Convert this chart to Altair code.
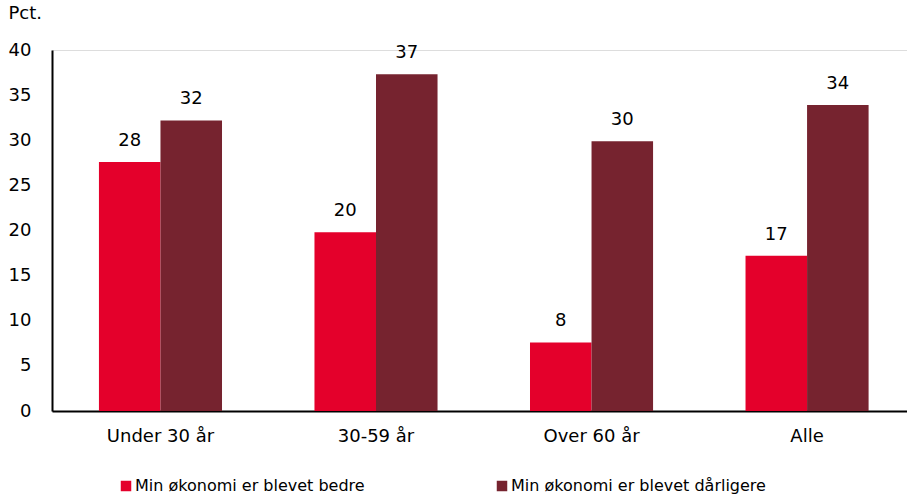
import altair as alt
import pandas as pd

categories = ["Under 30 år", "30-59 år", "Over 60 år", "Alle"]
series = ["Min økonomi er blevet bedre", "Min økonomi er blevet dårligere"]
bedre = [27.6, 19.8, 7.6, 17.2]
daarligere = [32.2, 37.3, 29.9, 33.9]
colors = ["#E4002B", "#76232F"]

rows = []
for c, b, d in zip(categories, bedre, daarligere):
    rows.append({"kat": c, "serie": series[0], "v": b})
    rows.append({"kat": c, "serie": series[1], "v": d})
df = pd.DataFrame(rows)

FONT = "DejaVu Sans"
FS = 18

x = alt.X("kat:N", sort=categories, title=None,
          scale=alt.Scale(paddingInner=0.429, paddingOuter=0.198, align=0.55),
          axis=alt.Axis(labelAngle=0, ticks=False, tickSize=0, labelPadding=16,
                        labelFontSize=FS, labelFont=FONT, labelColor="black",
                        domainColor="black", domainWidth=2))
xoff = alt.XOffset("serie:N", sort=series, scale=alt.Scale(paddingInner=0, paddingOuter=0))
y = alt.Y("v:Q", scale=alt.Scale(domain=[0, 40]),
          axis=alt.Axis(values=[0, 5, 10, 15, 20, 25, 30, 35, 40], grid=False, ticks=False,
                        tickSize=0, labelPadding=21, labelFontSize=FS, labelFont=FONT,
                        labelColor="black", domainColor="black", domainWidth=2,
                        title="Pct.", titleAngle=0, titleX=-44, titleY=-28, titleAlign="left",
                        titleFontSize=FS, titleFont=FONT, titleFontWeight="normal",
                        titleColor="black"))

bars = alt.Chart(df).mark_bar().encode(
    x=x, xOffset=xoff, y=y,
    color=alt.Color("serie:N", sort=series, scale=alt.Scale(domain=series, range=colors),
                    legend=alt.Legend(orient="none", legendX=66, legendY=428, direction="horizontal",
                                      title=None, symbolType="square", symbolSize=110,
                                      labelFontSize=16, labelFont=FONT, labelColor="black",
                                      labelLimit=0, columnPadding=129, labelOffset=1,
                                      symbolStrokeWidth=0)),
)

labels = alt.Chart(df).mark_text(baseline="bottom", dy=-12, fontSize=FS, font=FONT, color="black").encode(
    x=alt.X("kat:N", sort=categories), xOffset=xoff, y="v:Q",
    text=alt.Text("v:Q", format=".0f"),
)

chart = (bars + labels).properties(
    width=855, height=361,
    autosize=alt.AutoSizeParams(type="none"),
    padding={"left": 52, "top": 50, "right": 0, "bottom": 88},
).configure_view(stroke=None).configure(background="white")

chart.save("out.html", embed_options={"renderer": "svg", "actions": False})
